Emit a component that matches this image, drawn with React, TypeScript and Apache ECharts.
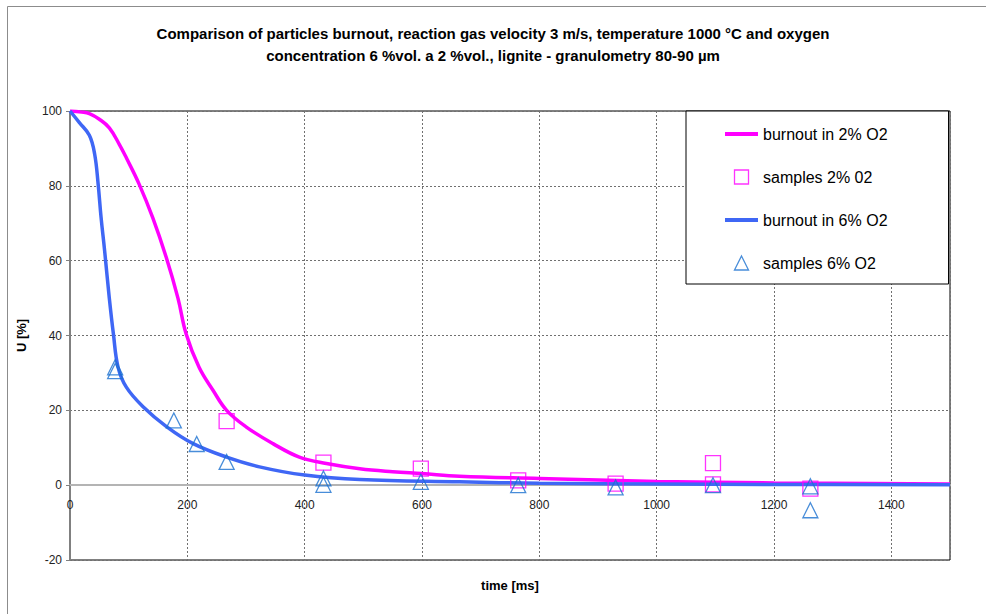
import React, { useEffect, useRef } from "react";
import * as echarts from "echarts";

const titleLines = [
  "Comparison of particles burnout, reaction gas velocity 3 m/s, temperature 1000 °C and oxygen",
  "concentration 6 %vol. a 2 %vol., lignite - granulometry 80-90 µm",
];

const seriesNames = ["burnout in 2% O2", "samples 2% 02", "burnout in 6% O2", "samples 6% O2"];

// time [ms], U [%]
const burnout2: [number, number][] = [
  [0, 100], [20, 99.7], [33, 99.3], [50, 97.8], [67, 95.5], [84, 91.1], [96, 87.5],
  [118, 80.4], [141, 71.5], [164, 60.9], [184, 50], [198, 40.4], [220, 31.5],
  [244, 25.3], [267, 20], [300, 15.6], [346, 11.1], [391, 7.5], [437, 5.8],
  [494, 4.4], [550, 3.6], [600, 3.1], [664, 2.4], [800, 1.8], [1000, 1.0],
  [1200, 0.6], [1500, 0.3],
];

const samples2: [number, number][] = [
  [267, 17.1], [432, 6.0], [598, 4.4], [764, 1.3], [930, 0.4], [1096, 5.9], [1096, 0.2], [1262, -0.9],
];

const burnout6: [number, number][] = [
  [0, 100], [16, 96.9], [33, 93.5], [42, 88.5], [48, 80.4], [53, 71.5], [59, 62.7],
  [67, 50], [74, 40.4], [82, 31.5], [96, 26.2], [125, 20.9], [165, 15.6], [210, 11.1],
  [267, 7.5], [323, 4.9], [400, 2.7], [494, 1.5], [664, 0.9], [800, 0.5], [1000, 0.3],
  [1200, 0.2], [1500, 0.1],
];

const samples6: [number, number][] = [
  [77, 31.5], [77, 30.5], [177, 17.3], [216, 11], [267, 6.2], [432, 1.8], [432, 0.1],
  [598, 0.9], [764, 0], [930, -0.6], [1096, 0], [1262, -0.3], [1262, -6.7],
];

const PINK = "#ff00ff";
const BLUE = "#3f67f5";
const TRI = "#1a70d0";
const FONT = "Liberation Sans, Arial, sans-serif";

const LINE_ICON = "path://M0,0 L33,0 L33,4 L0,4 Z";
const SQUARE_ICON = "path://M0,0 L12,0 L12,12 L0,12 Z";
const TRIANGLE_ICON = "path://M6,0 L12,12 L0,12 Z";

export default function App() {
  const ref = useRef<HTMLDivElement>(null);
  useEffect(() => {
    if (!ref.current) return;
    const chart = echarts.init(ref.current, undefined, { renderer: "svg" });
    chart.setOption({
      animation: false,
      backgroundColor: "#ffffff",
      textStyle: { fontFamily: FONT },
      title: {
        text: titleLines.join("\n"),
        left: "center",
        top: 17,
        textStyle: { fontSize: 15, fontWeight: "bold", color: "#000", lineHeight: 22, fontFamily: FONT },
      },
      graphic: [
        {
          type: "polyline",
          z: -10,
          silent: true,
          shape: { points: [[7.5, 614], [7.5, 6.5], [986, 6.5]] },
          style: { fill: "none", stroke: "#8c8c8c", lineWidth: 1 },
        },
      ],
      grid: {
        left: 70, right: 36, top: 111, bottom: 54,
        outerBoundsMode: "none",
        containLabel: false,
        show: true, borderColor: "#000", borderWidth: 1, backgroundColor: "transparent",
      },
      legend: {
        orient: "vertical",
        left: 686,
        top: 111,
        padding: [15, 61, 13, 39],
        itemWidth: 33,
        itemHeight: 14,
        itemGap: 27,
        symbolKeepAspect: true,
        backgroundColor: "#fff",
        borderColor: "#000",
        borderWidth: 1,
        textStyle: { fontSize: 16, color: "#000", fontFamily: FONT },
        data: [
          { name: seriesNames[0], icon: LINE_ICON, itemStyle: { color: PINK } },
          { name: seriesNames[1], icon: SQUARE_ICON, itemStyle: { color: "rgba(255,255,255,0)", borderColor: PINK, borderWidth: 1.3 } },
          { name: seriesNames[2], icon: LINE_ICON, itemStyle: { color: BLUE } },
          { name: seriesNames[3], icon: TRIANGLE_ICON, itemStyle: { color: "rgba(255,255,255,0)", borderColor: TRI, borderWidth: 1.3 } },
        ],
      },
      xAxis: {
        type: "value",
        min: 0,
        max: 1500,
        interval: 200,
        position: "bottom",
        offset: -75,
        name: "time [ms]",
        nameLocation: "middle",
        nameGap: 94,
        nameTextStyle: { fontSize: 13, fontWeight: "bold", color: "#000" },
        axisLine: { onZero: false, lineStyle: { color: "#b4b4b4", width: 2 } },
        axisTick: { show: false },
        axisLabel: { fontSize: 12, color: "#222", margin: 14, showMaxLabel: false, formatter: (v: number) => String(v) },
        splitLine: { show: true, lineStyle: { color: "#707070", type: [2, 2], width: 1 } },
      },
      yAxis: {
        type: "value",
        min: -20,
        max: 100,
        interval: 20,
        name: "U [%]",
        nameLocation: "middle",
        nameGap: 42,
        nameRotate: 90,
        nameTextStyle: { fontSize: 13, fontWeight: "bold", color: "#000" },
        axisLine: { show: true, onZero: false, lineStyle: { color: "#808080", width: 1 } },
        axisTick: { show: true, length: 4, lineStyle: { color: "#808080" } },
        axisLabel: { fontSize: 12, color: "#222", margin: 8, formatter: (v: number) => String(v) },
        splitLine: { show: true, lineStyle: { color: "#707070", type: [2, 2], width: 1 } },
      },
      series: [
        {
          name: seriesNames[0],
          type: "line",
          data: burnout2,
          symbol: "none",
          smooth: 0.4,
          lineStyle: { color: PINK, width: 3.5 },
          itemStyle: { color: PINK },
          z: 3,
        },
        {
          name: seriesNames[1],
          type: "scatter",
          data: samples2,
          symbol: "rect",
          symbolSize: 15,
          itemStyle: { color: "rgba(255,255,255,0)", borderColor: PINK, borderWidth: 1.3 },
          z: 4,
        },
        {
          name: seriesNames[2],
          type: "line",
          data: burnout6,
          symbol: "none",
          smooth: 0.4,
          lineStyle: { color: BLUE, width: 3.5 },
          itemStyle: { color: BLUE },
          z: 3,
        },
        {
          name: seriesNames[3],
          type: "scatter",
          data: samples6,
          symbol: "triangle",
          symbolSize: 15,
          itemStyle: { color: "rgba(255,255,255,0)", borderColor: TRI, borderWidth: 1.3 },
          z: 5,
        },
      ],
    });
    return () => chart.dispose();
  }, []);
  return (
    <div
      ref={ref}
      style={{ position: "absolute", left: 0, top: 0, width: 986, height: 614, overflow: "hidden" }}
    />
  );
}
